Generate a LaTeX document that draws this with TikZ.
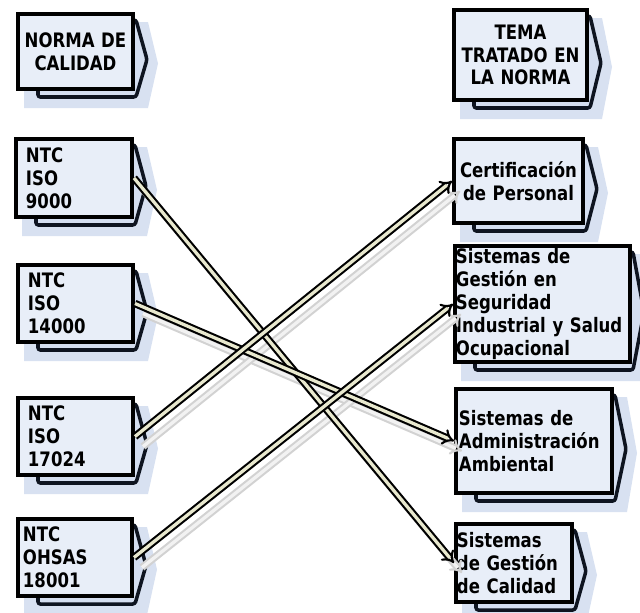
\documentclass[tikz,border=0pt]{standalone}
\usepackage{fontspec}
\newfontfamily\letra{DejaVu Sans}[FakeStretch=0.83]
\usetikzlibrary{arrows.meta}
\definecolor{relleno}{RGB}{232,238,248}
\definecolor{sombraazul}{RGB}{212,222,240}
\definecolor{contorno}{RGB}{14,20,32}
\definecolor{crema}{RGB}{232,232,206}

\newcommand\caja[8]{%
\pgfmathsetlengthmacro\cajaancho{(#4-#2-4-2*#6)*0.03cm}%
\pgfmathsetlengthmacro\cajaalto{(#5-#3-4)*0.03cm}%
\pgfmathsetlengthmacro\cajasep{#6*0.03cm}%
\fill[sombra] (#2+10,#3+12) -- (#4+15,#3+12) -- (#4+25,{(#3+#5)/2+14}) -- (#4+15,#5+19) -- (#2+10,#5+19) -- cycle;
\filldraw[trasera] (#2+24,#3+10) -- (#4+3,#3+10) -- (#4+14,{(#3+#5)/2+10}) -- (#4+3,#5+8) -- (#2+24,#5+8) -- cycle;
\node[bloque,align=#7,text width=\cajaancho,inner xsep=\cajasep,minimum height=\cajaalto,anchor=north west] (#1) at (#2+2,#3+2) {#8};
}

\begin{document}
\begin{tikzpicture}[x=0.03cm,y=-0.03cm]
\tikzstyle sombra=[fill=sombraazul, opacity=0.9]
\tikzstyle trasera=[draw=contorno, line width=3pt, fill=sombraazul, rounded corners=2pt]
\tikzstyle bloque=[draw=black, line width=3.4pt, fill=relleno, inner ysep=1pt, font=\letra\bfseries\fontsize{17}{19.5}\selectfont]
\tikzstyle flecha=[draw=black, line width=1.8pt, double=crema, double distance=2.8pt, -{Implies[scale=1.7]}]
\tikzstyle sombraflecha=[draw=gray!35, line width=1.8pt, double=gray!10, double distance=2.8pt, -{Implies[scale=1.7]}]

\useasboundingbox (0,0) rectangle (640,612);
\clip (0,0) rectangle (640,612);

\caja{norma}{14}{10}{133}{89}{2}{center}{NORMA DE\\CALIDAD}
\caja{tema}{450}{6}{587}{100}{2}{center}{TEMA\\TRATADO EN\\LA NORMA}

\caja{iso9000}{12}{135}{132}{217}{10}{left}{NTC\\ISO\\9000}
\caja{iso14000}{14}{261}{133}{342}{10}{left}{NTC\\ISO\\14000}
\caja{iso17024}{14}{394}{133}{475}{10}{left}{NTC\\ISO\\17024}
\caja{ohsas}{14}{515}{132}{596}{5}{left}{NTC\\OHSAS\\18001}

\caja{personal}{450}{135}{583}{223}{1}{center}{Certificación\\de Personal}
\caja{seguridad}{451}{242}{630}{362}{1}{left}{Sistemas de\\Gestión en\\Seguridad\\Industrial y Salud\\Ocupacional}
\caja{ambiental}{452}{385}{612}{493}{3}{left}{Sistemas de\\Administración\\Ambiental}
\caja{calidad}{452}{520}{572}{602}{1}{left}{Sistemas\\de Gestión\\de Calidad}

\foreach \a/\b in {iso9000/calidad,iso14000/ambiental,iso17024/personal,ohsas/seguridad}
  \draw[sombraflecha] ([shift={(8,10)}]\a.east) -- ([shift={(8,10)}]\b.west);
\foreach \a/\b in {iso9000/calidad,iso14000/ambiental,iso17024/personal,ohsas/seguridad}
  \draw[flecha] (\a.east) -- (\b.west);
\end{tikzpicture}
\end{document}
